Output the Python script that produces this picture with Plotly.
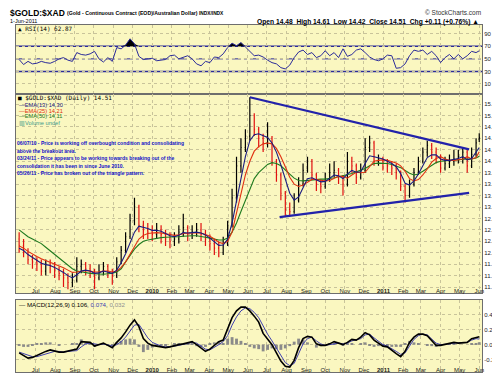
import pandas as pd
import numpy as np
import plotly.graph_objects as go

# ---------------- data (weekly readings of the daily chart) ----------------
dates = list(pd.date_range('2009-06-05', '2011-05-27', freq='7D').strftime('%Y-%m-%d')) + ['2011-06-01']

opens = [12.3, 12.15, 12.0, 11.85, 11.8, 11.75, 11.6, 11.75, 11.7, 11.6,
         11.55, 11.45, 11.35, 11.4, 11.7, 11.75, 11.65, 11.55, 11.45, 11.6,
         11.7, 11.55, 11.5, 11.8, 12.05, 12.35, 12.7, 13.0, 12.6, 12.5,
         12.45, 12.4, 12.5, 12.4, 12.3, 12.25, 12.3, 12.45, 12.55, 12.4,
         12.45, 12.5, 12.4, 12.3, 12.2, 12.1, 12.0, 12.2, 12.6, 13.2,
         13.9, 14.3, 14.55, 15.0, 14.7, 14.5, 14.4, 14.5, 14.0, 13.7,
         13.3, 12.95, 12.9, 13.15, 13.5, 13.8, 14.0, 13.7, 13.5, 13.45,
         13.6, 13.75, 13.8, 13.65, 13.5, 14.0, 13.9, 13.65, 13.8, 14.3,
         14.4, 14.0, 14.05, 13.95, 13.9, 13.85, 13.75, 13.45, 13.25, 13.5,
         13.75, 14.0, 14.2, 14.35, 14.2, 14.1, 13.85, 13.95, 14.0, 14.05,
         14.1, 14.2, 13.9, 14.15, 14.48]
highs = [12.45, 12.3, 12.1, 11.95, 11.9, 11.85, 11.85, 11.85, 11.8, 11.7,
         11.65, 11.55, 11.55, 11.9, 11.85, 11.8, 11.75, 11.65, 11.75, 11.8,
         11.75, 11.65, 11.9, 12.15, 12.45, 12.85, 13.2, 13.05, 12.7, 12.65,
         12.6, 12.65, 12.6, 12.5, 12.45, 12.45, 12.6, 12.85, 12.6, 12.6,
         12.65, 12.65, 12.5, 12.4, 12.3, 12.25, 12.35, 12.7, 13.4, 14.1,
         14.5, 14.7, 15.4, 15.05, 14.75, 14.6, 14.85, 14.55, 14.05, 13.75,
         13.35, 13.1, 13.3, 13.65, 13.95, 14.1, 14.05, 13.75, 13.6, 13.75,
         13.95, 14.0, 13.85, 13.7, 14.2, 14.1, 13.95, 13.95, 14.5, 14.56,
         14.45, 14.15, 14.1, 14.05, 14.0, 13.95, 13.8, 13.5, 13.6, 13.85,
         14.1, 14.3, 14.45, 14.4, 14.3, 14.15, 14.1, 14.15, 14.25, 14.25,
         14.3, 14.25, 14.3, 14.5, 14.61]
lows = [12.0, 11.9, 11.75, 11.65, 11.6, 11.5, 11.5, 11.55, 11.45, 11.4,
        11.25, 11.2, 11.25, 11.35, 11.55, 11.5, 11.45, 11.2, 11.4, 11.5,
        11.45, 11.3, 11.45, 11.75, 12.0, 12.3, 12.6, 12.45, 12.3, 12.3,
        12.25, 12.3, 12.2, 12.15, 12.1, 12.15, 12.2, 12.35, 12.25, 12.3,
        12.35, 12.25, 12.15, 12.05, 11.95, 11.9, 11.95, 12.15, 12.55, 13.1,
        13.75, 14.2, 14.45, 14.55, 14.3, 14.2, 14.3, 13.9, 13.55, 13.15,
        12.8, 12.8, 12.85, 13.1, 13.45, 13.75, 13.6, 13.35, 13.3, 13.4,
        13.55, 13.65, 13.5, 13.25, 13.45, 13.75, 13.5, 13.6, 13.75, 14.2,
        13.9, 13.9, 13.8, 13.75, 13.7, 13.6, 13.35, 13.1, 13.2, 13.45,
        13.7, 13.95, 14.1, 14.05, 13.95, 13.75, 13.8, 13.85, 13.9, 13.95,
        13.95, 13.75, 13.85, 14.1, 14.42]
closes = [12.15, 12.0, 11.85, 11.8, 11.75, 11.6, 11.75, 11.7, 11.6, 11.55,
          11.45, 11.35, 11.4, 11.7, 11.75, 11.65, 11.55, 11.45, 11.6, 11.7,
          11.55, 11.5, 11.8, 12.05, 12.35, 12.7, 13.0, 12.6, 12.5, 12.45,
          12.4, 12.5, 12.4, 12.3, 12.25, 12.3, 12.45, 12.55, 12.4, 12.45,
          12.5, 12.4, 12.3, 12.2, 12.1, 12.0, 12.2, 12.6, 13.2, 13.9,
          14.3, 14.55, 15.0, 14.7, 14.5, 14.4, 14.5, 14.0, 13.7, 13.3,
          12.95, 12.9, 13.15, 13.5, 13.8, 14.0, 13.7, 13.5, 13.45, 13.6,
          13.75, 13.8, 13.65, 13.5, 14.0, 13.9, 13.65, 13.8, 14.3, 14.4,
          14.0, 14.05, 13.95, 13.9, 13.85, 13.75, 13.45, 13.25, 13.5, 13.75,
          14.0, 14.2, 14.35, 14.2, 14.1, 13.85, 13.95, 14.0, 14.05, 14.1,
          14.2, 13.9, 14.15, 14.4, 14.51]
ema13 = [12.1, 12.05, 11.96, 11.9, 11.84, 11.77, 11.74, 11.72, 11.68, 11.63,
         11.57, 11.5, 11.45, 11.52, 11.6, 11.62, 11.6, 11.55, 11.56, 11.6,
         11.58, 11.55, 11.62, 11.78, 11.98, 12.2, 12.45, 12.58, 12.56, 12.53,
         12.49, 12.49, 12.47, 12.42, 12.37, 12.35, 12.38, 12.44, 12.43, 12.44,
         12.45, 12.43, 12.39, 12.32, 12.24, 12.16, 12.17, 12.3, 12.65, 13.15,
         13.65, 14.1, 14.45, 14.58, 14.6, 14.56, 14.52, 14.4, 14.2, 13.92,
         13.58, 13.3, 13.15, 13.22, 13.42, 13.62, 13.64, 13.6, 13.55, 13.56,
         13.63, 13.7, 13.68, 13.62, 13.72, 13.8, 13.76, 13.77, 13.95, 14.12,
         14.1, 14.08, 14.05, 14.0, 13.95, 13.88, 13.73, 13.52, 13.48, 13.57,
         13.72, 13.9, 14.08, 14.14, 14.14, 14.05, 14.02, 14.02, 14.04, 14.06,
         14.1, 14.03, 14.06, 14.2, 14.3]
ema25 = [12.15, 12.1, 12.03, 11.97, 11.92, 11.87, 11.83, 11.8, 11.76, 11.72,
         11.67, 11.62, 11.57, 11.58, 11.6, 11.61, 11.6, 11.58, 11.58, 11.6,
         11.6, 11.58, 11.6, 11.68, 11.8, 11.97, 12.15, 12.3, 12.38, 12.42,
         12.43, 12.44, 12.43, 12.42, 12.4, 12.38, 12.39, 12.42, 12.42, 12.43,
         12.44, 12.43, 12.4, 12.36, 12.3, 12.23, 12.2, 12.25, 12.45, 12.85,
         13.3, 13.7, 14.0, 14.22, 14.32, 14.38, 14.4, 14.38, 14.28, 14.1,
         13.88, 13.65, 13.5, 13.45, 13.48, 13.55, 13.6, 13.6, 13.58, 13.57,
         13.58, 13.62, 13.67, 13.67, 13.63, 13.7, 13.76, 13.75, 13.76, 13.88,
         14.0, 14.02, 14.03, 14.02, 13.99, 13.96, 13.9, 13.78, 13.62, 13.57,
         13.6, 13.7, 13.83, 13.98, 14.06, 14.1, 14.05, 14.02, 14.02, 14.03,
         14.05, 14.1, 14.05, 14.08, 14.21]
ema50 = [12.5, 12.42, 12.35, 12.3, 12.25, 12.2, 12.12, 12.04, 11.96, 11.88,
         11.8, 11.72, 11.65, 11.6, 11.58, 11.56, 11.55, 11.54, 11.53, 11.53,
         11.54, 11.55, 11.58, 11.65, 11.8, 11.95, 12.08, 12.18, 12.25, 12.28,
         12.3, 12.32, 12.33, 12.34, 12.34, 12.34, 12.35, 12.36, 12.37, 12.37,
         12.37, 12.36, 12.34, 12.32, 12.3, 12.28, 12.28, 12.32, 12.45, 12.65,
         12.9, 13.15, 13.4, 13.62, 13.75, 13.85, 13.93, 13.97, 13.95, 13.9,
         13.82, 13.72, 13.63, 13.58, 13.57, 13.58, 13.6, 13.61, 13.61, 13.61,
         13.62, 13.64, 13.66, 13.68, 13.7, 13.73, 13.77, 13.8, 13.84, 13.9,
         13.95, 13.96, 13.96, 13.95, 13.93, 13.9, 13.86, 13.8, 13.74, 13.7,
         13.72, 13.78, 13.85, 13.92, 13.97, 14.0, 14.01, 14.02, 14.03, 14.04,
         14.05, 14.05, 14.05, 14.07, 14.11]
rsi = [49, 41, 46, 42, 43, 46, 44, 43, 46, 50,
       52, 48, 46, 60, 57, 56, 58, 62, 50, 45,
       52, 46, 68, 66, 72, 82, 74, 54, 49, 50,
       51, 47, 48, 49, 55, 56, 50, 52, 55, 50,
       42, 39, 46, 44, 53, 52, 58, 68, 75, 71,
       76, 69, 62, 55, 56, 53, 48, 44, 42, 36,
       34, 40, 52, 61, 64, 57, 60, 52, 55, 63,
       55, 60, 52, 66, 54, 57, 64, 66, 60, 53,
       49, 47, 50, 56, 55, 35, 36, 42, 55, 64,
       62, 64, 57, 62, 55, 44, 52, 57, 50, 57,
       50, 55, 62, 60, 62.87]
macd = [-0.11, -0.15, -0.18, -0.17, -0.14, -0.12, -0.09, -0.07, -0.09, -0.1,
        -0.1, -0.09, -0.08, -0.06, 0.04, 0.04, 0.03, -0.02, 0.0, 0.02,
        -0.01, -0.04, 0.03, 0.09, 0.17, 0.26, 0.33, 0.24, 0.08, 0.02,
        -0.01, -0.02, -0.03, -0.04, -0.03, -0.01, 0.0, 0.01, 0.03, 0.04,
        0.0, -0.05, -0.09, -0.06, -0.01, 0.04, 0.06, 0.2, 0.36, 0.45,
        0.5, 0.5, 0.45, 0.38, 0.3, 0.15, 0.07, 0.0, -0.11, -0.22,
        -0.29, -0.3, -0.21, -0.04, 0.08, 0.11, 0.1, 0.01, -0.01, -0.01,
        0.01, 0.04, 0.02, 0.0, 0.03, 0.07, 0.06, 0.1, 0.16, 0.13,
        0.06, 0.02, -0.02, -0.03, -0.08, -0.12, -0.16, -0.09, 0.03, 0.1,
        0.14, 0.14, 0.12, 0.06, -0.01, -0.01, 0.0, 0.02, 0.03, 0.02,
        0.02, 0.03, 0.08, 0.1, 0.106]
signal = [-0.1, -0.12, -0.15, -0.16, -0.16, -0.14, -0.12, -0.1, -0.09, -0.09,
          -0.1, -0.09, -0.09, -0.08, -0.03, 0.01, 0.02, 0.01, 0.0, 0.01,
          0.0, -0.02, 0.0, 0.04, 0.1, 0.18, 0.26, 0.27, 0.18, 0.09,
          0.03, 0.0, -0.02, -0.03, -0.03, -0.02, -0.01, 0.0, 0.02, 0.03,
          0.02, -0.02, -0.06, -0.07, -0.04, 0.0, 0.04, 0.12, 0.26, 0.37,
          0.45, 0.49, 0.48, 0.43, 0.36, 0.24, 0.14, 0.05, -0.05, -0.15,
          -0.24, -0.28, -0.25, -0.12, 0.01, 0.08, 0.1, 0.05, 0.01, -0.01,
          0.0, 0.02, 0.02, 0.01, 0.02, 0.05, 0.06, 0.08, 0.13, 0.14,
          0.09, 0.04, 0.0, -0.02, -0.05, -0.09, -0.13, -0.11, -0.02, 0.07,
          0.12, 0.14, 0.13, 0.08, 0.02, 0.0, 0.0, 0.01, 0.02, 0.02,
          0.02, 0.03, 0.06, 0.08, 0.074]

# trend lines drawn on the chart
upper_trend_dates = ['2010-06-04', '2011-05-16']
upper_trend_vals = [15.40, 14.26]
lower_trend_dates = ['2010-07-21', '2011-05-16']
lower_trend_vals = [12.78, 13.31]

rsi_levels = [30, 50, 70]
month_ticks = list(pd.date_range('2009-07-01', '2011-06-01', freq='MS').strftime('%Y-%m-%d'))
month_labels = ['Jul', 'Aug', 'Sep', 'Oct', 'Nov', 'Dec', '<b>2010</b>', 'Feb', 'Mar', 'Apr', 'May', 'Jun',
                'Jul', 'Aug', 'Sep', 'Oct', 'Nov', 'Dec', '<b>2011</b>', 'Feb', 'Mar', 'Apr', 'May', 'Jun']
price_ticks = [11.25, 11.5, 11.75, 12.0, 12.25, 12.5, 12.75, 13.0, 13.25, 13.5, 13.75,
               14.0, 14.25, 14.5, 14.75, 15.0, 15.25]
rsi_ticks = [10, 30, 50, 70, 90]
macd_ticks = [-0.2, 0.0, 0.2, 0.4]

notes = ['06/07/10 - Price is working off overbought condition and consolidating',
         'above the breakout area.',
         '03/24/11 - Price appears to be working towards breaking out of the',
         'consolidation it has been in since June 2010.',
         '05/26/11 - Price has broken out of the triangle pattern.']

# ---------------- figure ----------------
W, H = 500, 374
FONT = 'Liberation Sans'
MONO = 'DejaVu Sans Mono'
BG = '#FAF7C0'
GRID = '#C8C39A'

def px(x):
    return x / W

def py(y):
    return 1 - y / H

fig = go.Figure()

# RSI panel
rsi_over = np.maximum(np.array(rsi, dtype=float), 70.0)
fig.add_trace(go.Scatter(x=dates, y=[70] * len(dates), mode='lines', line=dict(width=0),
                         xaxis='x', yaxis='y', hoverinfo='skip'))
fig.add_trace(go.Scatter(x=dates, y=rsi_over, mode='lines', line=dict(width=0), fill='tonexty',
                         fillcolor='black', xaxis='x', yaxis='y', hoverinfo='skip'))
fig.add_trace(go.Scatter(x=dates, y=rsi, mode='lines', line=dict(color='#2B2B9A', width=1),
                         xaxis='x', yaxis='y'))

# price panel
fig.add_trace(go.Scatter(x=dates, y=ema50, mode='lines', line=dict(color='#1E7A1E', width=1.1),
                         xaxis='x2', yaxis='y2'))
fig.add_trace(go.Scatter(x=dates, y=ema25, mode='lines', line=dict(color='#E03010', width=1.1),
                         xaxis='x2', yaxis='y2'))
fig.add_trace(go.Ohlc(x=dates, open=opens, high=highs, low=lows, close=closes,
                      increasing=dict(line=dict(color='black', width=1.2)),
                      decreasing=dict(line=dict(color='#E01010', width=1.2)),
                      tickwidth=0.25, xaxis='x2', yaxis='y2'))
fig.add_trace(go.Scatter(x=dates, y=ema13, mode='lines', line=dict(color='#1A1A80', width=1.1),
                         xaxis='x2', yaxis='y2'))
fig.add_trace(go.Scatter(x=upper_trend_dates, y=upper_trend_vals, mode='lines',
                         line=dict(color='#2222AA', width=2.2), xaxis='x2', yaxis='y2'))
fig.add_trace(go.Scatter(x=lower_trend_dates, y=lower_trend_vals, mode='lines',
                         line=dict(color='#2222AA', width=2.2), xaxis='x2', yaxis='y2'))

# MACD panel
hist = np.array(macd) - np.array(signal)
fig.add_trace(go.Bar(x=dates, y=hist, marker=dict(color='#8A8A8A', line=dict(width=0)),
                     xaxis='x3', yaxis='y3'))
fig.add_trace(go.Scatter(x=dates, y=signal, mode='lines', line=dict(color='#4040B0', width=1),
                         xaxis='x3', yaxis='y3'))
fig.add_trace(go.Scatter(x=dates, y=macd, mode='lines', line=dict(color='black', width=1.6),
                         xaxis='x3', yaxis='y3'))

xdom = [px(8), px(476)]
xr = ['2009-05-31', '2011-06-05 12:00']
tickfont = dict(family=FONT, size=6, color='#222222')

def xaxis(anchor, labels):
    return dict(domain=xdom, range=xr, type='date', anchor=anchor,
                tickvals=month_ticks, ticktext=month_labels, showticklabels=labels,
                showgrid=True, gridcolor=GRID, griddash='dot', gridwidth=1,
                showline=True, linecolor='#6E6E6E', linewidth=1, mirror=True,
                ticks='', ticklen=0, ticklabelstandoff=-8, tickfont=tickfont, zeroline=False,
                rangeslider=dict(visible=False), fixedrange=True)

def yaxis(anchor, dom, rng, vals, text):
    return dict(domain=dom, range=rng, anchor=anchor, side='right',
                tickvals=vals, ticktext=text, showgrid=True, gridcolor=GRID, griddash='dot',
                showline=True, linecolor='#6E6E6E', linewidth=1, mirror=True,
                ticks='', ticklen=0, tickfont=tickfont, zeroline=False, fixedrange=True)

shapes = []
for lv in rsi_levels:
    shapes.append(dict(type='line', xref='x domain', yref='y', x0=0, x1=1, y0=lv, y1=lv,
                       line=dict(color='#2B2B9A', width=1.5 if lv != 50 else 1,
                                 dash='solid' if lv != 50 else 'dashdot'), layer='below'))

ann = []

def txt(x, y, s, size=6, color='black', bold=False, anchor='left', family=FONT):
    ann.append(dict(xref='paper', yref='paper', x=px(x), y=py(y), xanchor=anchor, yanchor='middle',
                    text=('<b>%s</b>' % s) if bold else s, showarrow=False, borderpad=0,
                    font=dict(family=family, size=size, color=color)))

# header
txt(1, 5, '$GOLD:$XAD', size=8.5, bold=True)
txt(58, 5.5, '(Gold - Continuous Contract (EOD)/Australian Dollar) <span style="font-size:4.8px">INDX/INDX</span>', size=5.2, bold=True)
txt(1, 12.5, '1-Jun-2011', size=5.5)
txt(476, 4, '© StockCharts.com', size=6.5, color='#333333', anchor='right')
txt(474, 13.5, 'Open 14.48  High 14.61  Low 14.42  Close 14.51  Chg +0.11 (+0.76%) ▲',
    size=6.7, anchor='right', bold=True)
# RSI legend
txt(9, 20.5, '▲ RSI(14) 62.87', size=6, family=MONO)
# price legend
txt(9, 90, '■ $GOLD:$XAD (Daily) 14.51', size=6.0, family=MONO)
txt(10, 96.5, '—EMA(13) 14.30', size=5.7, color='#1A1A80')
txt(10, 102.5, '—EMA(25) 14.21', size=5.7, color='#E03010')
txt(10, 108.5, '—EMA(50) 14.11', size=5.7, color='#1E7A1E')
txt(10, 114.5, '▥Volume undef', size=5.7, color='#3A9A8A')
# notes
for s, y in zip(notes, [135, 142.5, 150, 157.5, 165]):
    txt(8, y, s, size=5.0, color='#1010C8', bold=True)
# MACD legend
txt(10, 296, '— MACD(12,26,9) 0.106, <span style="color:#4040B0">0.074</span>, <span style="color:#909090">0.032</span>', size=6.2)

fig.update_layout(
    width=W, height=H, margin=dict(l=0, r=0, t=0, b=0),
    paper_bgcolor='white', plot_bgcolor=BG, showlegend=False, bargap=0.1,
    xaxis=xaxis('y', False),
    xaxis2=xaxis('y2', True),
    xaxis3=xaxis('y3', True),
    yaxis=yaxis('x', [py(86), py(17)], [-6, 104], rsi_ticks, [str(v) for v in rsi_ticks]),
    yaxis2=yaxis('x2', [py(285), py(86)], [11.12, 15.47], price_ticks, ['%.2f' % v for v in price_ticks]),
    yaxis3=yaxis('x3', [py(364), py(292)], [-0.365, 0.595], macd_ticks, ['%.1f' % v for v in macd_ticks]),
    shapes=shapes, annotations=ann,
)

fig.write_html('out.html')
